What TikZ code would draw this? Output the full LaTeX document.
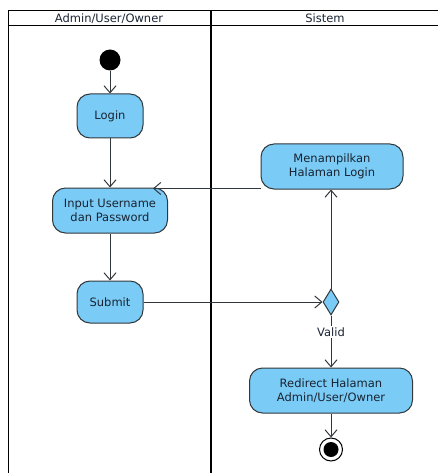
\documentclass[tikz,border=0pt]{standalone}
\usepackage{fontspec}
\setmainfont{DejaVu Sans}
\usetikzlibrary{shapes.geometric,arrows.meta}
\definecolor{actfill}{RGB}{122,203,245}
\definecolor{actline}{RGB}{50,55,60}
\definecolor{txt}{RGB}{25,35,50}
\begin{document}
\begin{tikzpicture}[x=1pt,y=-1pt,
  act/.style={draw=actline,line width=1pt,fill=actfill,rounded corners=13pt,
    align=center,text=txt,font=\fontsize{11.5}{14.5}\selectfont,inner sep=0pt},
  lane/.style={line width=1.8pt,draw=black},
  flow/.style={draw=actline,line width=1pt,-{Straight Barb[length=7pt,width=12pt,line width=1pt]}},
  dec/.style={draw=actline,line width=1pt,fill=actfill,diamond,minimum width=16pt,minimum height=26pt,inner sep=0pt}
]
\useasboundingbox (0,0) rectangle (438,473);
% swimlanes
\draw[lane] (8.5,473) -- (8.5,10.5) -- (438,10.5);
\draw[lane] (8.5,25.5) -- (438,25.5);
\draw[lane] (211,10.5) -- (211,473);
\node[font=\fontsize{11.5}{12}\selectfont,text=txt] (h1) at (109,18.5) {Admin/User/Owner};
\node[font=\fontsize{11.5}{12}\selectfont,text=txt] (h2) at (325,18.5) {Sistem};
% nodes
\node[circle,fill=black,minimum size=21pt,inner sep=0pt] (start) at (110,60) {};
\node[act,minimum width=66pt,minimum height=44pt] (login) at (110,116) {Login};
\node[act,minimum width=115pt,minimum height=45pt] (input) at (110,210.5) {Input Username\\dan Password};
\node[act,minimum width=66pt,minimum height=42pt] (submit) at (110,302) {Submit};
\node[act,minimum width=142pt,minimum height=45pt] (tampil) at (332,166.5) {Menampilkan\\Halaman Login};
\node[dec] (d) at (331,302) {};
\node[act,minimum width=163pt,minimum height=45pt] (redir) at (331,390.5) {Redirect Halaman\\Admin/User/Owner};
\node[circle,draw=black,line width=1pt,fill=white,minimum size=23pt,inner sep=0pt] (end) at (331,449.5) {};
\node[circle,fill=black,minimum size=15pt,inner sep=0pt] at (end) {};
% flows
\draw[flow] (start) -- (login);
\draw[flow] (login) -- (input);
\draw[flow] (input) -- (submit);
\draw[flow] (submit) -- (d);
\draw[flow] (d) -- (d |- tampil.south);
\coordinate (c1) at (261,188.5);
\coordinate (c2) at (153,188.5);
\draw[flow] (c1) -- (c2);
\draw[flow] (d) -- node[fill=white,inner sep=1.5pt,text=txt,font=\fontsize{11.5}{12}\selectfont,pos=0.32] {Valid} (d |- redir.north);
\draw[flow] (redir) -- (end);
\end{tikzpicture}
\end{document}
